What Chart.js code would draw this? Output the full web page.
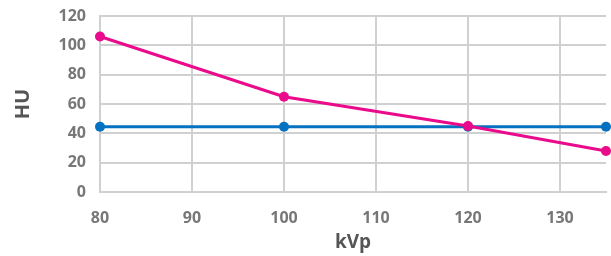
<!DOCTYPE html>
<html>
<head>
<meta charset="utf-8">
<script src="https://cdn.jsdelivr.net/npm/chart.js@4"></script>
<style>
  html, body { margin: 0; padding: 0; background: #fff; }
  #wrap { width: 611px; height: 256px; }
</style>
</head>
<body>
<div id="wrap"><canvas id="grafico"></canvas></div>
<script>
// dados
const kvp = [80, 100, 120, 135];
const serieRosa = [106, 65, 45, 28];
const serieAzul = [44.5, 44.5, 44.5, 44.5];
const ticksX = [80, 90, 100, 110, 120, 130];
const ticksY = [0, 20, 40, 60, 80, 100, 120];

const corGrelha = '#d0d0d0';
const fonte = "'Open Sans', 'DejaVu Sans', sans-serif";

function pontos(ys) {
    return kvp.map((x, i) => ({ x: x, y: ys[i] }));
}

var ctx = document.getElementById('grafico').getContext('2d');
new Chart(ctx, {
    type: 'line',
    data: {
        datasets: [{
            label: 'Série 1',
            data: pontos(serieRosa),
            borderColor: '#ea0a8c',
            backgroundColor: '#ea0a8c',
            borderWidth: 3,
            pointRadius: 5,
            pointBorderWidth: 0,
            clip: false
        }, {
            label: 'Série 2',
            data: pontos(serieAzul),
            borderColor: '#0571c1',
            backgroundColor: '#0571c1',
            borderWidth: 3,
            pointRadius: 5,
            pointBorderWidth: 0,
            clip: false
        }]
    },
    options: {
        responsive: true,
        maintainAspectRatio: false,
        animation: false,
        layout: { padding: { top: 16, right: 5, left: 0, bottom: 0 } },
        plugins: {
            legend: { display: false },
            tooltip: { enabled: false }
        },
        scales: {
            x: {
                type: 'linear',
                min: 80,
                max: 135,
                afterBuildTicks: (s) => { s.ticks = ticksX.map(v => ({ value: v })); },
                afterFit: (s) => { s.height = 64; s.paddingLeft = 0; s.paddingRight = 0; },
                ticks: {
                    includeBounds: false,
                    padding: 17,
                    color: '#777',
                    font: { family: fonte, size: 16, weight: 'bold' }
                },
                grid: { color: corGrelha, lineWidth: 2, drawTicks: false },
                border: { color: corGrelha, width: 2 },
                title: {
                    display: true,
                    text: 'kVp',
                    color: '#555',
                    padding: { top: 0, bottom: 2 },
                    font: { family: fonte, size: 19, weight: 'bold' }
                }
            },
            y: {
                min: 0,
                max: 120,
                afterBuildTicks: (s) => { s.ticks = ticksY.map(v => ({ value: v })); },
                afterFit: (s) => { s.width = 100; s.paddingTop = 0; s.paddingBottom = 0; },
                ticks: {
                    padding: 14,
                    color: '#777',
                    font: { family: fonte, size: 16, weight: 'bold' }
                },
                grid: { color: corGrelha, lineWidth: 2, drawTicks: false },
                border: { color: corGrelha, width: 2 },
                title: {
                    display: true,
                    text: 'HU',
                    color: '#555',
                    padding: { top: 11, bottom: 0 },
                    font: { family: fonte, size: 20, weight: 'bold' }
                }
            }
        }
    }
});
</script>
</body>
</html>
